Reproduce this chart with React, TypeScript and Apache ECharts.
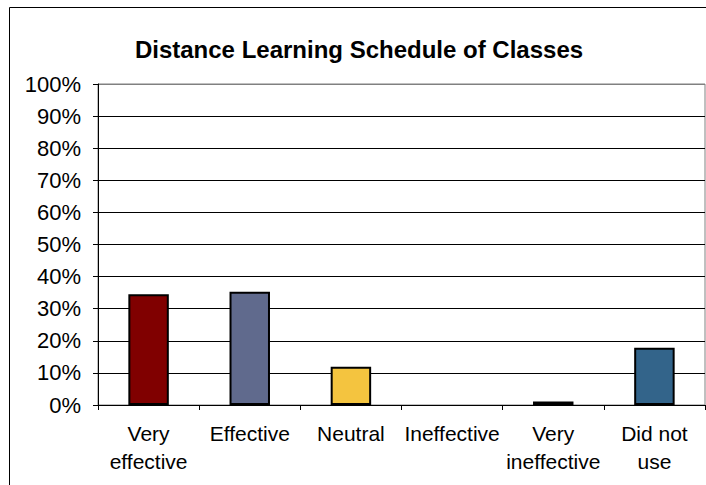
import React, { useEffect, useRef } from "react";
import * as echarts from "echarts";

const titleText = "Distance Learning Schedule of Classes";
const categories = ["Very\neffective", "Effective", "Neutral", "Ineffective", "Very\nineffective", "Did not\nuse"];
const values = [34.5, 35.3, 11.9, 0, 1.1, 17.8];
const barColors = ["#800000", "#606A8D", "#F4C43F", "#9999FF", "#000000", "#33648A"];
const yTicks = [0, 10, 20, 30, 40, 50, 60, 70, 80, 90, 100];

export default function App() {
  const ref = useRef<HTMLDivElement>(null);
  useEffect(() => {
    if (!ref.current) return;
    const chart = echarts.init(ref.current, null, { renderer: "svg" });
    const font = "'Liberation Sans', Arial, sans-serif";
    const splitColors = yTicks.map((t, i) => (i === 0 ? "rgba(0,0,0,0)" : i === yTicks.length - 1 ? "#808080" : "#000000"));
    chart.setOption({
      animation: false,
      backgroundColor: "#ffffff",
      title: {
        text: titleText,
        left: 354,
        top: 32,
        textAlign: "center",
        textStyle: { fontFamily: font, fontSize: 24, fontWeight: "bold", color: "#000" },
      },
      graphic: [
        {
          type: "rect",
          shape: { x: 9.5, y: 7.5, width: 720, height: 500 },
          style: { fill: "none", stroke: "#000", lineWidth: 1 },
          silent: true,
          z: 100,
        },
      ],
      grid: {
        left: 98,
        right: 1,
        top: 84,
        bottom: 80,
        show: true,
        borderColor: "#808080",
        borderWidth: 1,
        backgroundColor: "transparent",
      },
      xAxis: {
        type: "category",
        data: categories,
        boundaryGap: true,
        axisLine: { show: true, lineStyle: { color: "#000", width: 1 } },
        axisTick: { show: true, length: 5, alignWithLabel: false, lineStyle: { color: "#000" } },
        axisLabel: {
          interval: 0,
          margin: 14,
          fontFamily: font,
          fontSize: 21,
          lineHeight: 28,
          color: "#000",
          verticalAlign: "top",
        },
        splitLine: { show: false },
      },
      yAxis: {
        type: "value",
        min: 0,
        max: 100,
        interval: 10,
        axisLine: { show: true, lineStyle: { color: "#000", width: 1 } },
        axisTick: { show: true, length: 5, inside: false, lineStyle: { color: "#000" } },
        axisLabel: {
          formatter: "{value}%",
          margin: 17,
          fontFamily: font,
          fontSize: 22,
          color: "#000",
        },
        splitLine: { show: true, lineStyle: { color: splitColors, width: 1 } },
      },
      series: [
        {
          type: "bar",
          barWidth: "40%",
          data: values.map((v, i) => ({
            value: v,
            itemStyle: { color: barColors[i], borderColor: "#000", borderWidth: v > 0 ? 2 : 0 },
          })),
        },
      ],
    });
    return () => chart.dispose();
  }, []);
  return (
    <div
      ref={ref}
      style={{ position: "absolute", left: 0, top: 0, width: 706, height: 485, background: "#fff" }}
    />
  );
}
